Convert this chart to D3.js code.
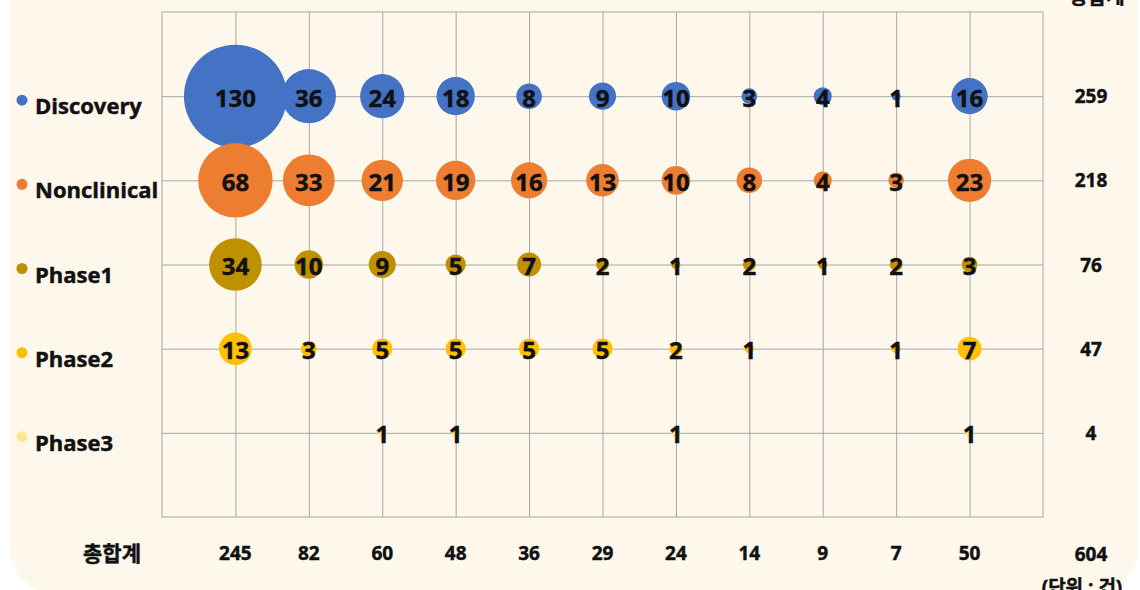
<!DOCTYPE html>
<html lang="ko">

<head>
    <meta charset="UTF-8" />
    <title>Pipeline bubble chart</title>

    <script src="https://d3js.org/d3.v7.min.js"></script>

    <style>
        body {
            margin: 0;
            background: #ffffff;
        }

        text {
            font-family: "Open Sans", "Noto Sans CJK KR", sans-serif;
            font-weight: bold;
            fill: #111;
            stroke: #111;
            stroke-width: 0.45px;
        }
    </style>
</head>

<body>

    <script>
        // Data
        var phases = ["Discovery", "Nonclinical", "Phase1", "Phase2", "Phase3"];
        var phaseColors = ["#4472C4", "#ED7D31", "#BF9000", "#FFC000", "#FFE699"];

        var discovery   = [130, 36, 24, 18, 8, 9, 10, 3, 4, 1, 16];
        var nonclinical = [68, 33, 21, 19, 16, 13, 10, 8, 4, 3, 23];
        var phase1      = [34, 10, 9, 5, 7, 2, 1, 2, 1, 2, 3];
        var phase2      = [13, 3, 5, 5, 5, 5, 2, 1, null, 1, 7];
        var phase3      = [null, null, 1, 1, null, null, 1, null, null, null, 1];

        var rowTotals = [259, 218, 76, 47, 4];
        var colTotals = [245, 82, 60, 48, 36, 29, 24, 14, 9, 7, 50];
        var grandTotal = 604;
        var totalLabel = "총합계";
        var unitLabel = "(단위 : 건)";

        var series = [discovery, nonclinical, phase1, phase2, phase3];

        // Set up the SVG
        var w = 1140;
        var h = 590;

        var svg = d3.select("body")
            .append("svg")
            .attr("width", w)
            .attr("height", h);

        // cream panel with rounded corners
        svg.append("rect")
            .attr("x", 10)
            .attr("y", -60)
            .attr("width", 1128)
            .attr("height", 654)
            .attr("rx", 46)
            .style("fill", "#FEF8EC");

        var nCols = colTotals.length;
        var xScale = d3.scaleLinear()
            .domain([0, nCols + 1])
            .range([162, 1043]);

        var yScale = d3.scaleLinear()
            .domain([0, phases.length + 1])
            .range([517, 12]);

        var rScale = d3.scaleSqrt()
            .domain([0, 130])
            .range([0, 51.5]);

        // row index -> y position (first phase at top)
        function rowY(i) { return yScale(phases.length - i); }
        function colX(j) { return xScale(j + 1); }

        // Gridlines (vertical)
        svg.append("g")
            .attr("transform", "translate(0, 517)")
            .call(d3.axisBottom(xScale)
                .tickValues(d3.range(1, nCols + 1))
                .tickSize(-505)
                .tickFormat(""))
            .call(function (g) { g.select(".domain").remove(); })
            .selectAll("line")
            .style("stroke", "#A6A6A6");

        // Gridlines (horizontal)
        svg.append("g")
            .attr("transform", "translate(162, 0)")
            .call(d3.axisLeft(yScale)
                .tickValues(d3.range(1, phases.length + 1))
                .tickSize(-881)
                .tickFormat(""))
            .call(function (g) { g.select(".domain").remove(); })
            .selectAll("line")
            .style("stroke", "#A6A6A6");

        // Plot border
        svg.append("rect")
            .attr("x", xScale(0))
            .attr("y", yScale(phases.length + 1))
            .attr("width", xScale(nCols + 1) - xScale(0))
            .attr("height", yScale(0) - yScale(phases.length + 1))
            .style("fill", "none")
            .style("stroke", "#A6A6A6");

        // Flatten the series into points
        var points = [];
        series.forEach(function (row, i) {
            row.forEach(function (v, j) {
                if (v !== null) points.push({ row: i, col: j, value: v });
            });
        });

        // Bubbles
        svg.selectAll("circle.bubble")
            .data(points)
            .enter()
            .append("circle")
            .attr("class", "bubble")
            .attr("cx", function (d) { return colX(d.col); })
            .attr("cy", function (d) { return rowY(d.row); })
            .attr("r", function (d) { return rScale(d.value); })
            .style("fill", function (d) { return phaseColors[d.row]; });

        // Bubble labels
        svg.selectAll("text.val")
            .data(points)
            .enter()
            .append("text")
            .attr("class", "val")
            .attr("x", function (d) { return colX(d.col); })
            .attr("y", function (d) { return rowY(d.row) + 1; })
            .attr("text-anchor", "middle")
            .attr("dominant-baseline", "central")
            .style("font-size", "24px")
            .text(function (d) { return d.value; });

        // Legend-style row labels
        var legend = svg.selectAll("g.legend")
            .data(phases)
            .enter()
            .append("g")
            .attr("class", "legend")
            .attr("transform", function (d, i) { return "translate(0," + rowY(i) + ")"; });

        legend.append("circle")
            .attr("cx", 22)
            .attr("cy", 4)
            .attr("r", 5.5)
            .style("fill", function (d, i) { return phaseColors[i]; });

        legend.append("text")
            .attr("x", 35)
            .attr("y", 9)
            .attr("dominant-baseline", "central")
            .style("font-size", "22px")
            .text(function (d) { return d; });

        // Row totals on the right
        svg.selectAll("text.rowTotal")
            .data(rowTotals)
            .enter()
            .append("text")
            .attr("class", "rowTotal")
            .attr("x", 1091)
            .attr("y", function (d, i) { return rowY(i); })
            .attr("text-anchor", "middle")
            .attr("dominant-baseline", "central")
            .style("font-size", "19px")
            .text(function (d) { return d; });

        // Column totals along the bottom
        svg.selectAll("text.colTotal")
            .data(colTotals)
            .enter()
            .append("text")
            .attr("class", "colTotal")
            .attr("x", function (d, i) { return colX(i); })
            .attr("y", 553)
            .attr("text-anchor", "middle")
            .attr("dominant-baseline", "central")
            .style("font-size", "19px")
            .text(function (d) { return d; });

        svg.append("text")
            .attr("x", 112)
            .attr("y", 553)
            .attr("text-anchor", "middle")
            .attr("dominant-baseline", "central")
            .style("font-size", "21px")
            .text(totalLabel);

        svg.append("text")
            .attr("x", 1091)
            .attr("y", 554)
            .attr("text-anchor", "middle")
            .attr("dominant-baseline", "central")
            .style("font-size", "19px")
            .text(grandTotal);

        // Header and unit note, cut by the frame edges as in the source
        svg.append("text")
            .attr("x", 1097)
            .attr("y", 4)
            .attr("text-anchor", "middle")
            .style("font-size", "20px")
            .text(totalLabel);

        svg.append("text")
            .attr("x", 1082)
            .attr("y", 594)
            .attr("text-anchor", "middle")
            .style("font-size", "19px")
            .text(unitLabel);

    </script>

</body>

</html>
